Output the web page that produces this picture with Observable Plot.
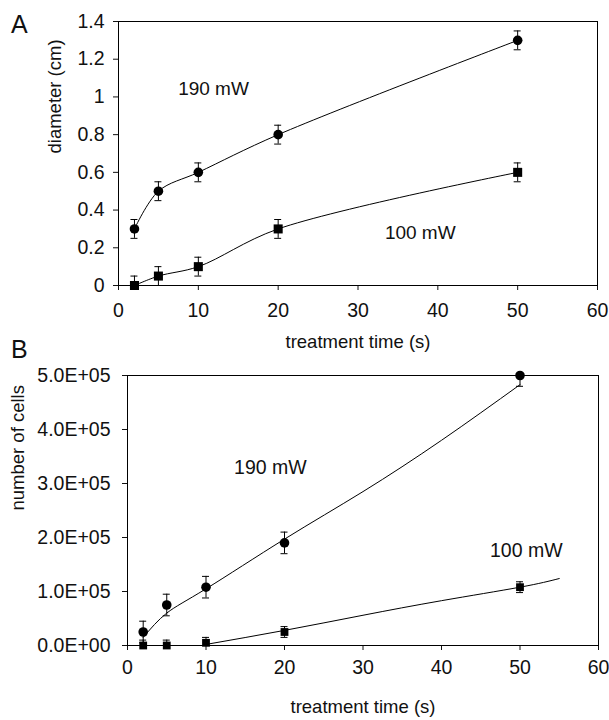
<!DOCTYPE html>
<html><head><meta charset="utf-8">
<script src="https://cdn.jsdelivr.net/npm/d3@7"></script>
<script src="https://cdn.jsdelivr.net/npm/@observablehq/plot@0.6"></script>
<style>
body{margin:0;background:#fff;font-family:"Liberation Sans",Arial,sans-serif;}
#wrap{position:relative;width:609px;height:720px;overflow:hidden;}
.panel{position:absolute;left:0;}
.letter{position:absolute;font-size:25px;color:#111;line-height:1;}
</style></head><body>
<div id="wrap">
<div id="a" class="panel" style="top:0"></div>
<div id="b" class="panel" style="top:360px"></div>
<div class="letter" style="left:11px;top:12px">A</div>
<div class="letter" style="left:11px;top:337px">B</div>
</div>
<script>
// ---- data ----
const times = [2, 5, 10, 20, 50];
// Panel A: diameter (cm)
const diam190 = [0.3, 0.5, 0.6, 0.8, 1.3];
const diam190Err = [0.05, 0.05, 0.05, 0.05, 0.05];
const diam100 = [0, 0.05, 0.1, 0.3, 0.6];
const diam100Err = [0.05, 0.05, 0.05, 0.05, 0.05];
// Panel B: number of cells
const cells190 = [25000, 75000, 108000, 190000, 500000];
const cells190Err = [20000, 20000, 20000, 20000, 20000];
const cells100 = [0, 0, 5000, 25000, 108000];
const cells100Err = [10000, 10000, 10000, 10000, 10000];
// Panel B trend lines
const trend190X = [2, 5, 10, 20, 30, 40, 50];
const trend190Y = [15000, 60000, 105000, 197000, 285000, 380000, 483000];
const trend100X = [10, 20, 30, 40, 50, 55];
const trend100Y = [2000, 28000, 56000, 83000, 108000, 124000];
// axes
const xTicks = [0, 10, 20, 30, 40, 50, 60];
const xTickLabels = ["0", "10", "20", "30", "40", "50", "60"];
const yTicksA = [0, 0.2, 0.4, 0.6, 0.8, 1, 1.2, 1.4];
const yTickLabelsA = ["0", "0.2", "0.4", "0.6", "0.8", "1", "1.2", "1.4"];
const yTicksB = [0, 100000, 200000, 300000, 400000, 500000];
const yTickLabelsB = ["0.0E+00", "1.0E+05", "2.0E+05", "3.0E+05", "4.0E+05", "5.0E+05"];
const seriesLabels = ["190 mW", "100 mW"];
const xTitle = "treatment time (s)";
const yTitleA = "diameter (cm)";
const yTitleB = "number of cells";

// ---- helpers ----
const font = "Liberation Sans, Arial, sans-serif";
const tbl = (xs, vs, es) => xs.map((t, i) => ({t, v: vs[i], e: es ? es[i] : 0}));
const fmt = (ticks, labels) => d => labels[ticks.indexOf(d)] ?? "";

function errorMarks(data) {
  return [
    Plot.ruleX(data, {x: "t", y1: d => d.v - d.e, y2: d => d.v + d.e, stroke: "#000", strokeWidth: 1, clip: true}),
    Plot.ruleY(data, {y: d => d.v + d.e, x1: "t", x2: "t", insetLeft: -3.5, insetRight: -3.5, stroke: "#000", strokeWidth: 1, clip: true}),
    Plot.ruleY(data, {y: d => d.v - d.e, x1: "t", x2: "t", insetLeft: -3.5, insetRight: -3.5, stroke: "#000", strokeWidth: 1, clip: true})
  ];
}

// ---- Panel A ----
const a190 = tbl(times, diam190, diam190Err);
const a100 = tbl(times, diam100, diam100Err);
const plotA = Plot.plot({
  width: 609, height: 360,
  marginLeft: 118, marginRight: 12, marginTop: 21, marginBottom: 75,
  style: {fontFamily: font, fontSize: "19.5px", color: "#111", background: "#fff", overflow: "visible"},
  x: {domain: [0, 60], ticks: xTicks, tickFormat: fmt(xTicks, xTickLabels), tickSize: 5, tickPadding: 13, label: null},
  y: {domain: [0, 1.4], ticks: yTicksA, tickFormat: fmt(yTicksA, yTickLabelsA), tickSize: 5, tickPadding: 9, label: null},
  marks: [
    Plot.frame({stroke: "#000", strokeWidth: 1}),
    Plot.line(a190, {x: "t", y: "v", curve: "catmull-rom", stroke: "#000", strokeWidth: 1}),
    Plot.line(a100, {x: "t", y: "v", curve: "catmull-rom", stroke: "#000", strokeWidth: 1}),
    ...errorMarks(a190),
    ...errorMarks(a100),
    Plot.dot(a190, {x: "t", y: "v", r: 4.8, fill: "#000", stroke: "none"}),
    Plot.dot(a100, {x: "t", y: "v", r: 5.1, symbol: "square", fill: "#000", stroke: "none"}),
    Plot.text([seriesLabels[0]], {x: 11.9, y: 1.045, text: d => d, fontSize: 19}),
    Plot.text([seriesLabels[1]], {x: 37.8, y: 0.28, text: d => d, fontSize: 19}),
    Plot.text([xTitle], {frameAnchor: "bottom", dy: 62, text: d => d, fontSize: 18.5}),
    Plot.text([yTitleA], {frameAnchor: "left", dx: -63, rotate: -90, text: d => d, fontSize: 18.5})
  ]
});
document.getElementById("a").appendChild(plotA);

// ---- Panel B ----
const b190 = tbl(times, cells190, cells190Err);
const b100 = tbl(times, cells100, cells100Err);
const t190 = tbl(trend190X, trend190Y);
const t100 = tbl(trend100X, trend100Y);
const plotB = Plot.plot({
  width: 609, height: 360,
  marginLeft: 127, marginRight: 11, marginTop: 15, marginBottom: 75,
  style: {fontFamily: font, fontSize: "19.5px", color: "#111", background: "#fff", overflow: "visible"},
  x: {domain: [0, 60], ticks: xTicks, tickFormat: fmt(xTicks, xTickLabels), tickSize: 5, tickPadding: 10, label: null},
  y: {domain: [0, 500000], ticks: yTicksB, tickFormat: fmt(yTicksB, yTickLabelsB), tickSize: 5, tickPadding: 12, label: null},
  marks: [
    Plot.frame({stroke: "#000", strokeWidth: 1}),
    Plot.line(t190, {x: "t", y: "v", curve: "natural", stroke: "#000", strokeWidth: 1}),
    Plot.line(t100, {x: "t", y: "v", curve: "natural", stroke: "#000", strokeWidth: 1}),
    ...errorMarks(b190),
    ...errorMarks(b100),
    Plot.dot(b190, {x: "t", y: "v", r: 4.8, fill: "#000", stroke: "none"}),
    Plot.dot(b100, {x: "t", y: "v", r: 4.4, symbol: "square", fill: "#000", stroke: "none"}),
    Plot.text([seriesLabels[0]], {x: 18.2, y: 330000, text: d => d, fontSize: 19.5}),
    Plot.text([seriesLabels[1]], {x: 50.8, y: 176000, text: d => d, fontSize: 19.5}),
    Plot.text([xTitle], {frameAnchor: "bottom", dy: 67, text: d => d, fontSize: 18.5}),
    Plot.text([yTitleB], {frameAnchor: "left", dx: -109, rotate: -90, text: d => d, fontSize: 18.5})
  ]
});
document.getElementById("b").appendChild(plotB);
</script>
</body></html>
